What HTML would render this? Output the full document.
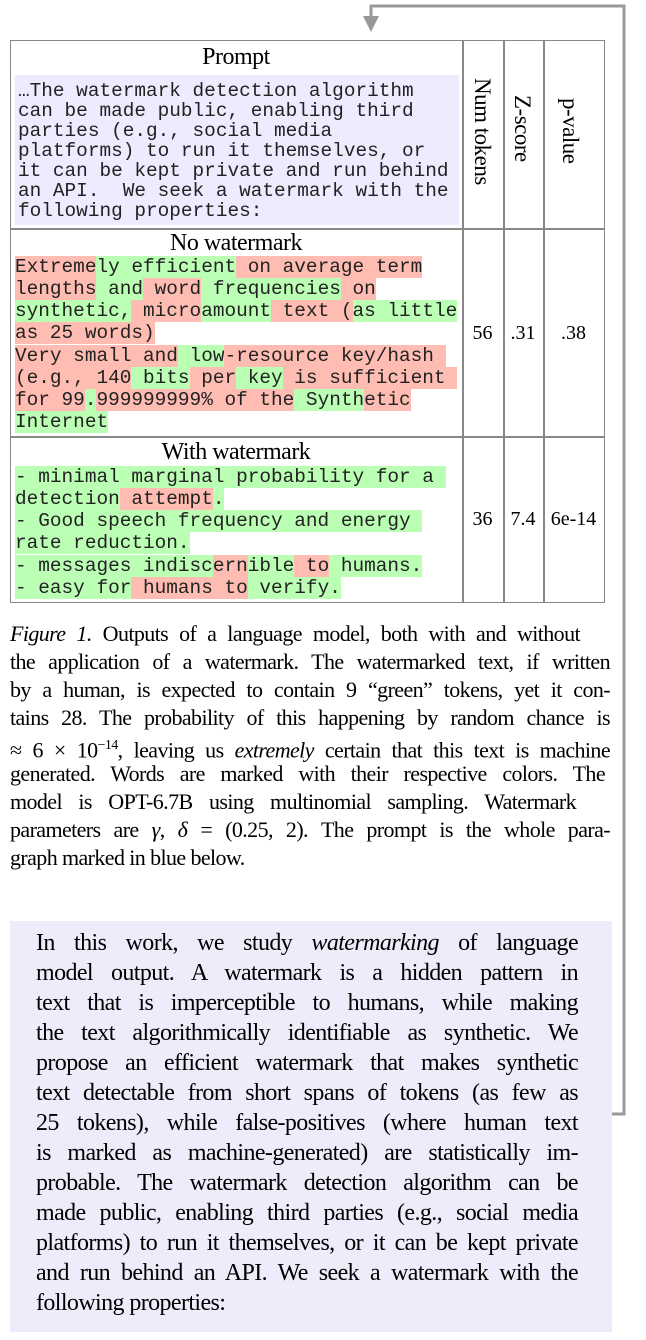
<!DOCTYPE html>
<html><head><meta charset="utf-8"><style>
body{margin:0;width:646px;height:1340px;background:#fff;position:relative;overflow:hidden;font-family:"Liberation Serif",serif;color:#000}
.abs{position:absolute}
.mono{font-family:"Liberation Mono",monospace;font-size:19.4px;white-space:pre;color:#222}
.ln{position:absolute;left:15px;height:22px;line-height:22px}
.r{background:#ffbcb2}
.g{background:#bbffb4}
.hd{position:absolute;font-size:24px;text-align:center;letter-spacing:-0.5px}
.vt{position:absolute;writing-mode:vertical-rl;font-size:23px;white-space:nowrap;letter-spacing:-0.5px}
.num{position:absolute;font-size:20px;text-align:center}
.cap{position:absolute;left:10px;width:600px;font-size:22px;letter-spacing:-0.6px;line-height:28px;text-align:justify;text-align-last:justify;white-space:nowrap}
.bd{position:absolute;left:36px;width:542px;font-size:24px;letter-spacing:-0.6px;line-height:30px;text-align:justify;text-align-last:justify;white-space:nowrap}
</style></head><body>
<svg class="abs" style="left:0;top:0" width="646" height="1340">
<polyline points="612,1114 624,1114 624,6 371,6 371,18" fill="none" stroke="#999" stroke-width="3"/>
<polygon points="363,16 379,16 371,32" fill="#999"/>
</svg>
<div>
<div class="abs" style="left:10px;top:40px;width:593px;height:561px;border:1.5px solid #888"></div>
<div class="abs" style="left:462px;top:40px;width:1.5px;height:562px;background:#888"></div>
<div class="abs" style="left:503px;top:40px;width:1.5px;height:562px;background:#888"></div>
<div class="abs" style="left:543px;top:40px;width:1.5px;height:562px;background:#888"></div>
<div class="abs" style="left:10px;top:228px;width:594px;height:1.5px;background:#888"></div>
<div class="abs" style="left:10px;top:436px;width:594px;height:1.5px;background:#888"></div>
<div class="hd" style="left:10px;width:452px;top:44px">Prompt</div>
<div class="vt" style="left:469px;top:78px">Num tokens</div>
<div class="vt" style="left:509px;top:95px">Z-score</div>
<div class="vt" style="left:557px;top:98px">p-value</div>
<div class="abs" style="left:15px;top:75px;width:444px;height:150px;background:#eeebff"></div>
<div class="mono abs" style="left:18px;top:81px;line-height:20px">…The watermark detection algorithm
can be made public, enabling third
parties (e.g., social media
platforms) to run it themselves, or
it can be kept private and run behind
an API.  We seek a watermark with the
following properties:</div>
<div class="hd" style="left:10px;width:452px;top:230px">No watermark</div>
<div class="mono">
<div class="ln" style="top:256px"><span class="r">Extreme</span><span class="g">ly efficient</span><span class="r"> on average term</span></div>
<div class="ln" style="top:278px"><span class="r">lengths</span><span class="g"> and</span><span class="r"> word</span><span class="g"> frequencies</span><span class="r"> on</span></div>
<div class="ln" style="top:300px"><span class="g">synthetic,</span><span class="r"> micro</span><span class="g">amount</span><span class="r"> text (</span><span class="g">as little</span></div>
<div class="ln" style="top:322px"><span class="r">as 25 words)</span></div>
<div class="ln" style="top:345px"><span class="r">Very small and</span><span class="g"> low</span><span class="r">-resource key/hash </span></div>
<div class="ln" style="top:367px"><span class="r">(e.g., 140</span><span class="g"> bits</span><span class="r"> per</span><span class="g"> key</span><span class="r"> is sufficient </span></div>
<div class="ln" style="top:389px"><span class="r">for 99</span><span class="g">.</span><span class="r">999999999% of the</span><span class="g"> Synth</span><span class="r">etic</span></div>
<div class="ln" style="top:411px"><span class="g">Internet</span></div>
</div>
<div class="hd" style="left:10px;width:452px;top:439px">With watermark</div>
<div class="mono">
<div class="ln" style="top:466px"><span class="g">- minimal marginal probability for a </span></div>
<div class="ln" style="top:488px"><span class="g">detection</span><span class="r"> attempt</span><span class="g">.</span></div>
<div class="ln" style="top:510px"><span class="g">- Good speech frequency and energy </span></div>
<div class="ln" style="top:532px"><span class="g">rate reduction.</span></div>
<div class="ln" style="top:555px"><span class="g">- messages indisc</span><span class="r">ern</span><span class="g">ible</span><span class="r"> to</span><span class="g"> humans.</span></div>
<div class="ln" style="top:577px"><span class="g">- easy for</span><span class="r"> humans to</span><span class="g"> verify.</span></div>
</div>
<div class="num" style="left:462px;width:41px;top:322px">56</div>
<div class="num" style="left:503px;width:40px;top:322px">.31</div>
<div class="num" style="left:543px;width:61px;top:322px">.38</div>
<div class="num" style="left:462px;width:41px;top:508px">36</div>
<div class="num" style="left:503px;width:40px;top:508px">7.4</div>
<div class="num" style="left:543px;width:61px;top:508px">6e-14</div>
</div>
<div>
<div class="cap" style="top:620px;width:570px"><i>Figure 1.</i> Outputs of a language model, both with and without</div>
<div class="cap" style="top:648px">the application of a watermark. The watermarked text, if written</div>
<div class="cap" style="top:676px">by a human, is expected to contain 9 “green” tokens, yet it con-</div>
<div class="cap" style="top:704px">tains 28. The probability of this happening by random chance is</div>
<div class="cap" style="top:732px">≈ 6 × 10<sup style="font-size:14px">−14</sup>, leaving us <i>extremely</i> certain that this text is machine</div>
<div class="cap" style="top:760px;width:595px">generated. Words are marked with their respective colors. The</div>
<div class="cap" style="top:788px;width:566px">model is OPT-6.7B using multinomial sampling. Watermark</div>
<div class="cap" style="top:816px">parameters are <i>γ</i>, <i>δ</i> = (0.25, 2). The prompt is the whole para-</div>
<div class="cap" style="top:844px;text-align-last:left">graph marked in blue below.</div>
</div>
<div class="abs" style="left:10px;top:921px;width:602px;height:411px;background:#eeebfb"></div>
<div>
<div class="bd" style="top:928px">In this work, we study <i>watermarking</i> of language</div>
<div class="bd" style="top:958px">model output.  A watermark is a hidden pattern in</div>
<div class="bd" style="top:988px">text that is imperceptible to humans, while making</div>
<div class="bd" style="top:1018px">the text algorithmically identifiable as synthetic. We</div>
<div class="bd" style="top:1048px">propose an efficient watermark that makes synthetic</div>
<div class="bd" style="top:1078px">text detectable from short spans of tokens (as few as</div>
<div class="bd" style="top:1108px">25 tokens), while false-positives (where human text</div>
<div class="bd" style="top:1138px">is marked as machine-generated) are statistically im-</div>
<div class="bd" style="top:1168px">probable. The watermark detection algorithm can be</div>
<div class="bd" style="top:1198px">made public, enabling third parties (e.g., social media</div>
<div class="bd" style="top:1228px">platforms) to run it themselves, or it can be kept private</div>
<div class="bd" style="top:1258px">and run behind an API. We seek a watermark with the</div>
<div class="bd" style="top:1288px;text-align-last:left">following properties:</div>
</div>
</body></html>
